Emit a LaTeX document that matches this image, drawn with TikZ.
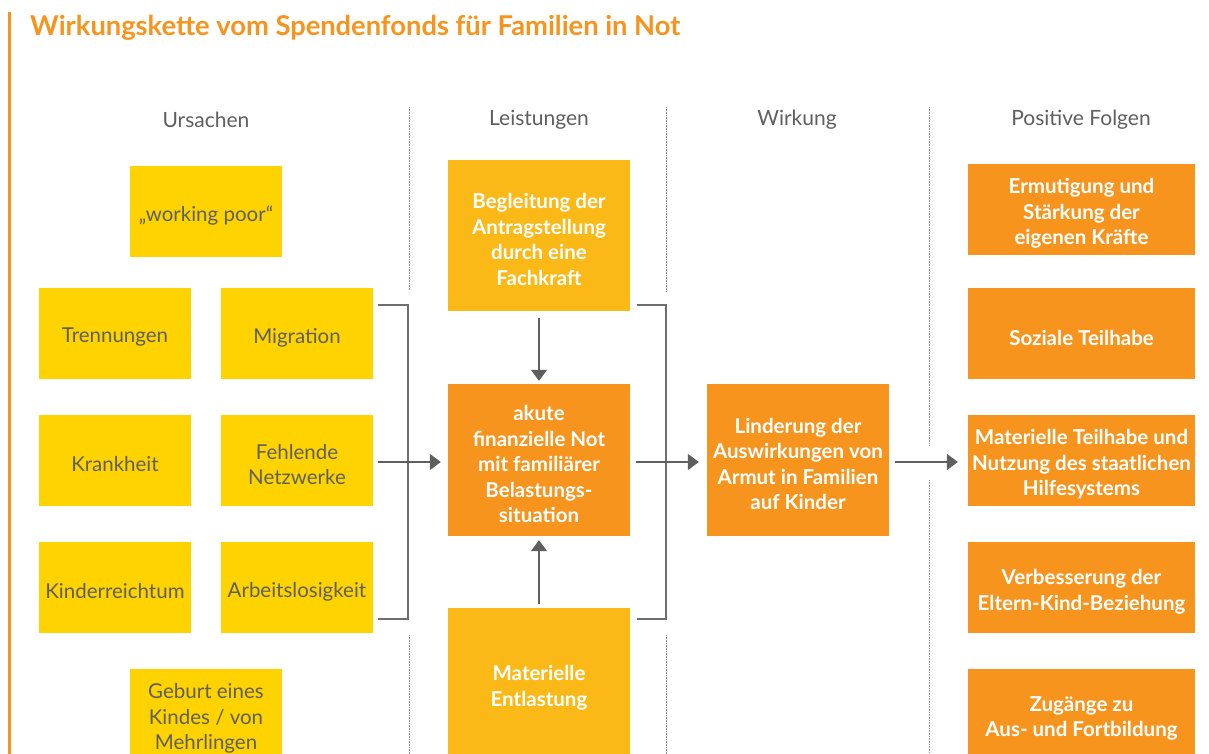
\documentclass[tikz,border=0pt]{standalone}
\usepackage{fontspec}
\setmainfont{Lato}
\usetikzlibrary{arrows.meta, calc}
\definecolor{fondsorange}{HTML}{F7941E}
\definecolor{fondsamber}{HTML}{FBB918}
\definecolor{fondsyellow}{HTML}{FFD300}
\definecolor{fondsgray}{HTML}{5F5F5F}
\definecolor{fondsline}{HTML}{6E6E6E}

\begin{document}
\begin{tikzpicture}[
    x=1pt,
    y=-1pt,
    % Text etwas tiefer in der Box setzen
    boxtext/.style={
        inner sep=0pt,
        align=center,
        execute at begin node={\vbox\bgroup\kern8pt\hbox\bgroup},
        execute at end node={\egroup\egroup}
    },
    causebox/.style={
        boxtext,
        fill=fondsyellow,
        minimum width=152pt,
        minimum height=91pt,
        text=fondsgray,
        font=\fontsize{20.5}{25.5}\selectfont
    },
    servicebox/.style={
        boxtext,
        fill=fondsamber,
        minimum width=182pt,
        minimum height=151pt,
        text=white,
        font=\fontsize{20.5}{25.5}\selectfont\bfseries
    },
    needbox/.style={
        servicebox,
        fill=fondsorange,
        minimum height=152pt
    },
    resultbox/.style={
        boxtext,
        fill=fondsorange,
        minimum width=227pt,
        minimum height=91pt,
        text=white,
        font=\fontsize{20.5}{25.5}\selectfont\bfseries
    },
    colhead/.style={
        text=fondsgray,
        font=\fontsize{21}{25}\selectfont
    },
    separator/.style={
        draw=fondsgray!70,
        line width=0.8pt,
        dash pattern=on 0.8pt off 0.8pt
    },
    bracket/.style={
        draw=fondsline,
        line width=1.6pt
    },
    arr/.style={
        -{Triangle[length=11pt,width=16pt]},
        draw=fondsgray,
        fill=fondsgray,
        line width=1.6pt
    }
]
\clip (0,0) rectangle (1209,754);
\fill[white] (0,0) rectangle (1209,754);

% -----------------------------------------------------
% Titel und Spalten
% -----------------------------------------------------

\fill[fondsorange] (8,12) rectangle (10.5,754);

\node[anchor=base west, inner sep=0pt, text=fondsorange,
    font=\fontsize{27.3}{32}\selectfont\bfseries] (title) at (30,36)
    {Wirkungskette vom Spendenfonds für Familien in Not};

\node[colhead] (hcause)   at (206,120)  {Ursachen};
\node[colhead] (hservice) at (539,120)  {Leistungen};
\node[colhead] (heffect)  at (797,120)  {Wirkung};
\node[colhead] (hresult)  at (1081,120) {Positive Folgen};

\draw[separator] (409,107) -- (409,290);
\draw[separator] (409,635) -- (409,754);
\draw[separator] (666,107) -- (666,292);
\draw[separator] (666,635) -- (666,754);
\draw[separator] (929,107) -- (929,445);
\draw[separator] (929,480) -- (929,754);

% -----------------------------------------------------
% Ursachen
% -----------------------------------------------------

\node[causebox] (poor)     at (206,211.5) {„working poor“};
\node[causebox] (trenn)    at (115,333.5) {Trennungen};
\node[causebox] (migr)     at (297,333.5) {Migration};
\node[causebox] (krank)    at (115,460.5) {Krankheit};
\node[causebox] (netz)     at (297,460.5) {Fehlende\\Netzwerke};
\node[causebox] (kinder)   at (115,587.5) {Kinderreichtum};
\node[causebox] (arbeit)   at (297,587.5) {Arbeitslosigkeit};
\node[causebox] (geburt)   at (206,714.5) {Geburt eines\\Kindes / von\\Mehrlingen};

% -----------------------------------------------------
% Leistungen und Wirkung
% -----------------------------------------------------

\node[servicebox] (begleit) at (539,235.5)
    {Begleitung der\\Antragstellung\\durch eine\\Fachkraft};
\node[needbox] (not) at (539,460)
    {akute\\finanzielle Not\\mit familiärer\\Belastungs-\\situation};
\node[servicebox] (entlast) at (539,683.5)
    {Materielle\\Entlastung};

\node[needbox] (linder) at (798,460)
    {Linderung der\\Auswirkungen von\\Armut in Familien\\auf Kinder};

% -----------------------------------------------------
% Positive Folgen
% -----------------------------------------------------

\node[resultbox] (mut)     at (1081.5,209.5) {Ermutigung und\\Stärkung der\\eigenen Kräfte};
\node[resultbox] (sozial)  at (1081.5,333.5) {Soziale Teilhabe};
\node[resultbox] (materiell) at (1081.5,460.5) {Materielle Teilhabe und\\Nutzung des staatlichen\\Hilfesystems};
\node[resultbox] (eltern)  at (1081.5,587.5) {Verbesserung der\\Eltern-Kind-Beziehung};
\node[resultbox] (bildung) at (1081.5,714.5) {Zugänge zu\\Aus- und Fortbildung};

% -----------------------------------------------------
% Klammern und Pfeile
% -----------------------------------------------------

\coordinate (lbtop) at (378,305);
\coordinate (lbbot) at (378,619);
\coordinate (lbmid) at (378,462);
\draw[bracket] (lbtop) -- (408,305) -- (408,619) -- (lbbot);

\coordinate (mbtop) at (637,305);
\coordinate (mbbot) at (637,619);
\coordinate (mbmid) at (636,462);
\draw[bracket] (mbtop) -- (666,305) -- (666,619) -- (mbbot);

\draw[arr, shorten >=7pt] (lbmid) -- (not.west |- lbmid);
\draw[arr, shorten <=7pt, shorten >=3pt] (begleit.south) -- (not.north);
\draw[arr, shorten <=4pt, shorten >=4pt] (entlast.north) -- (not.south);
\draw[arr, shorten >=8pt] (mbmid) -- (linder.west |- mbmid);
\draw[arr, shorten <=6pt, shorten >=10pt] (linder.east |- mbmid) -- (materiell.west |- mbmid);

\end{tikzpicture}
\end{document}
